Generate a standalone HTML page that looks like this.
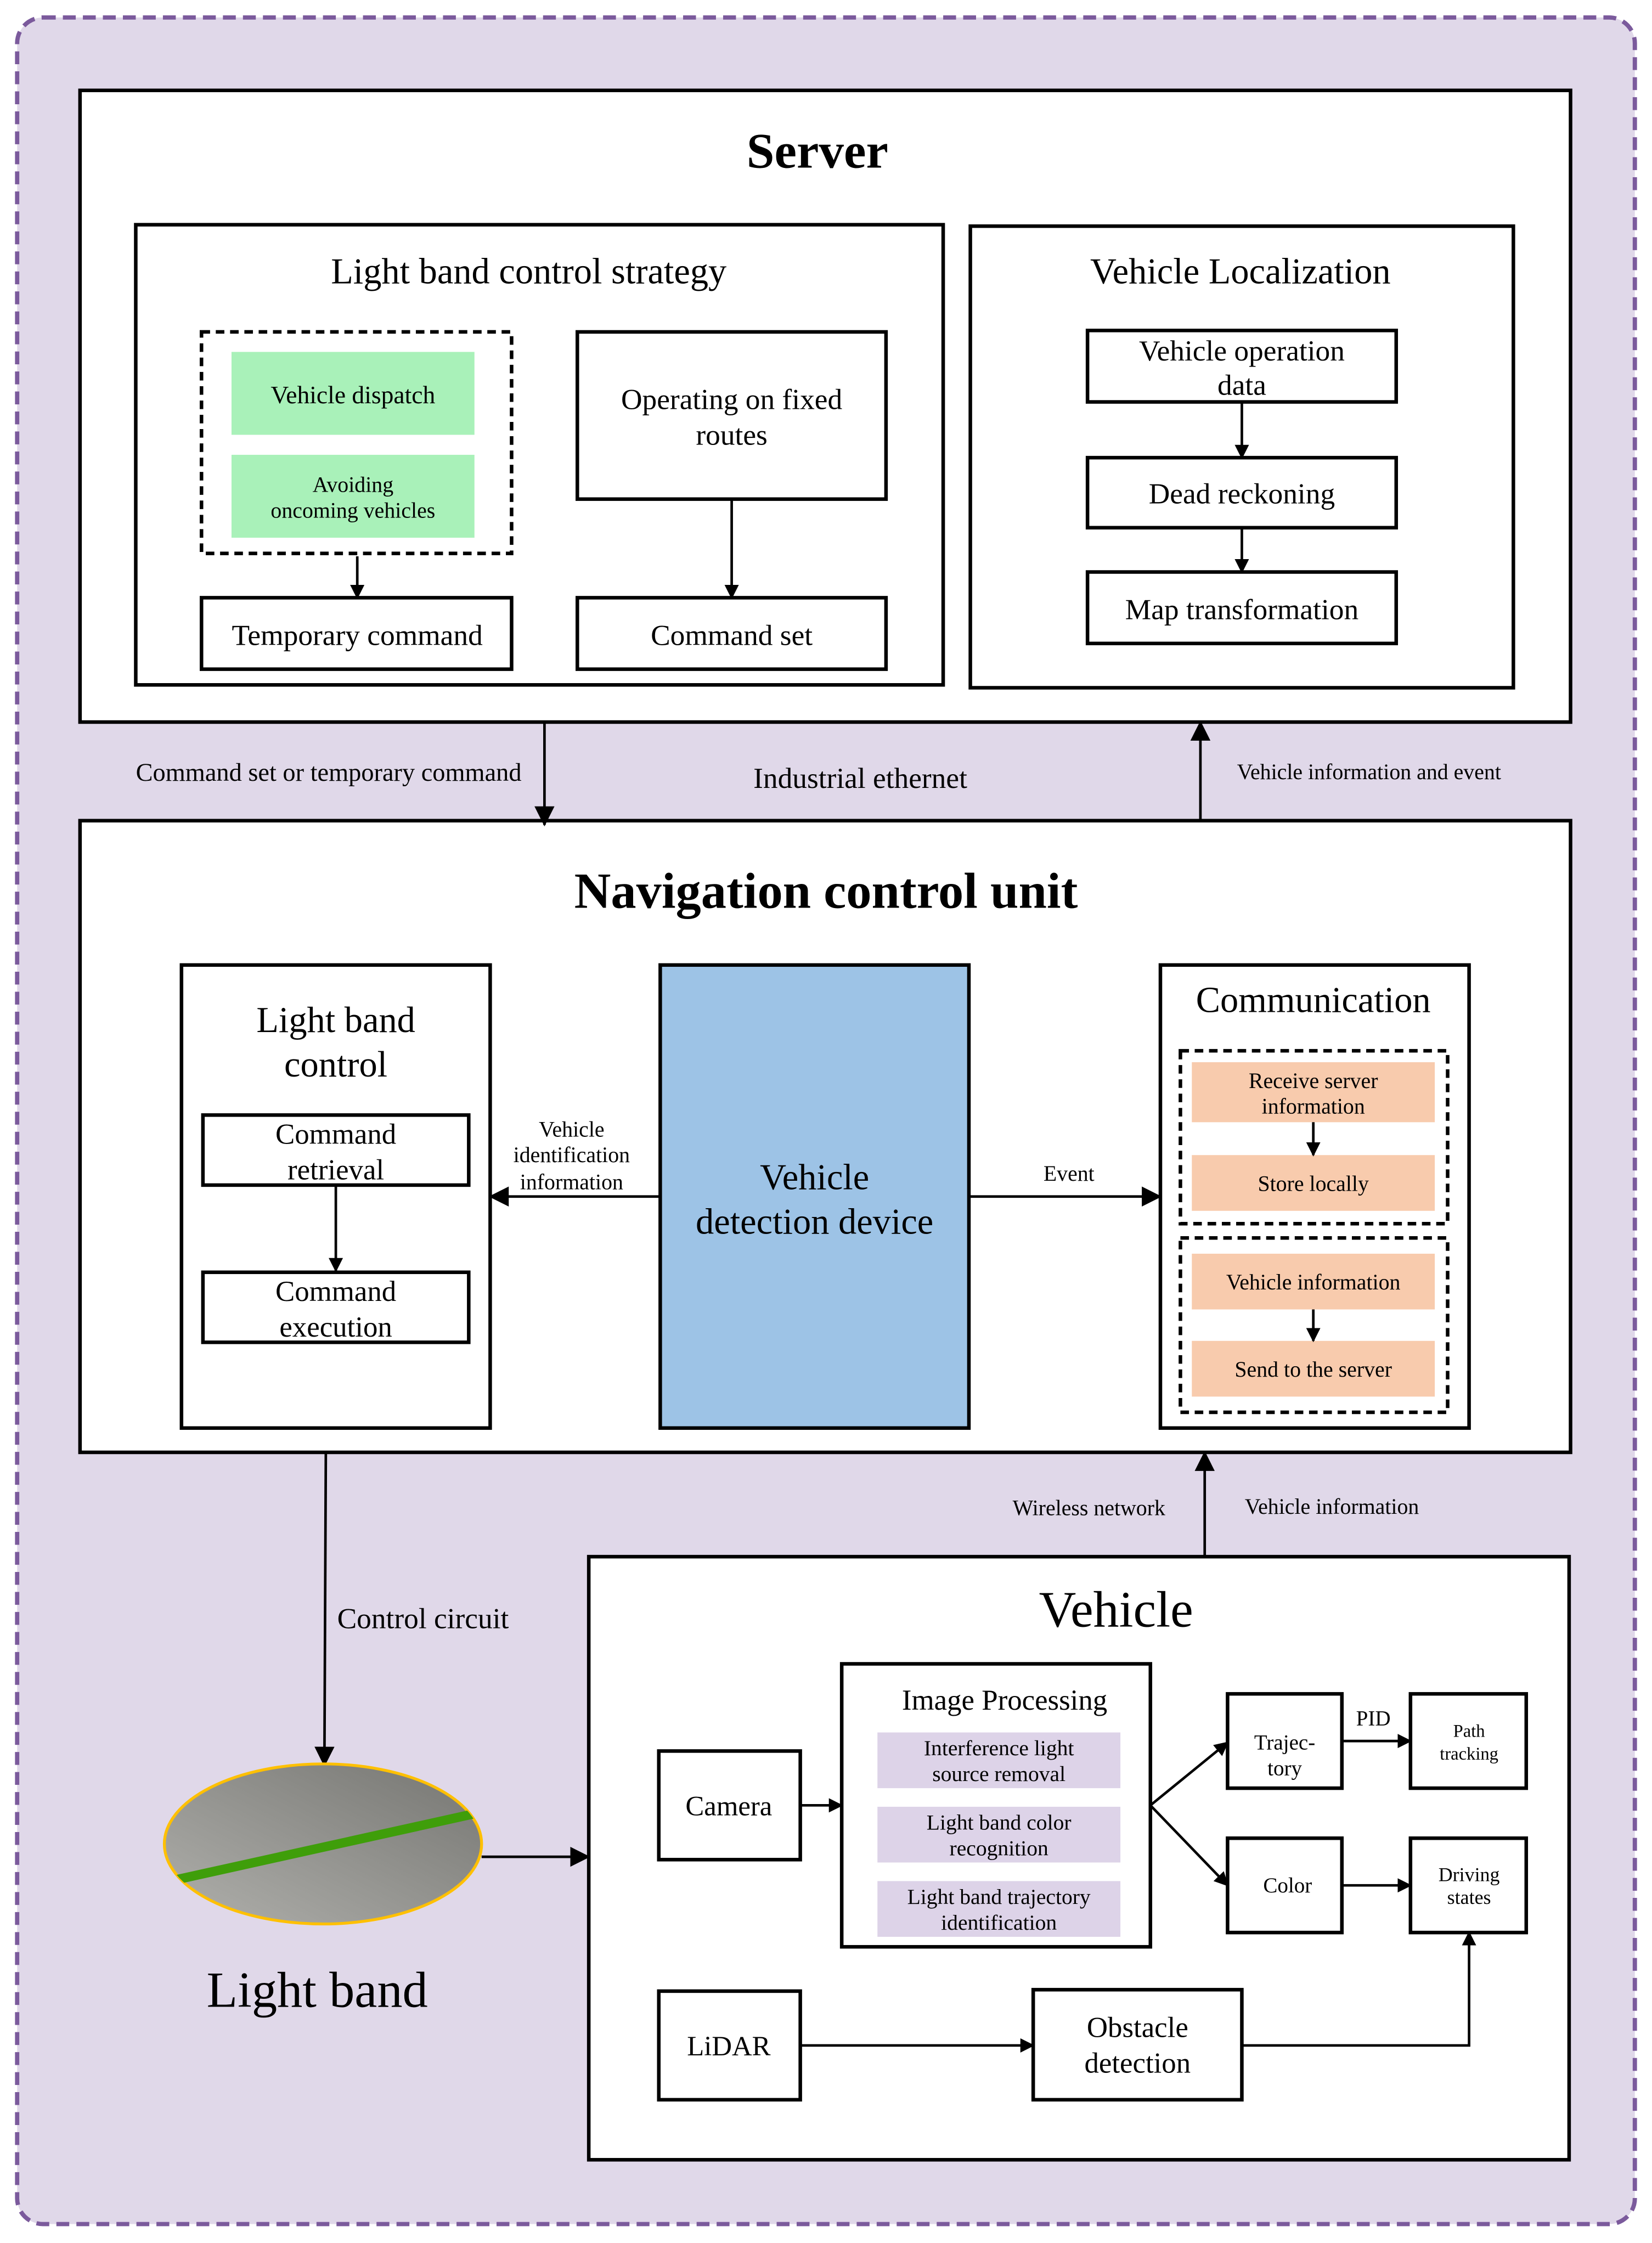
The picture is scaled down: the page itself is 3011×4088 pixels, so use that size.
<!DOCTYPE html>
<html><head><meta charset="utf-8"><style>html,body{margin:0;padding:0;background:#fff}svg{display:block}</style></head><body>
<svg xmlns="http://www.w3.org/2000/svg" width="3011" height="4088" viewBox="0 0 1156 1569" font-family="Liberation Serif, serif" text-anchor="middle">
<defs>
<marker id="a" markerWidth="10" markerHeight="10" refX="9" refY="5" orient="auto" markerUnits="userSpaceOnUse"><path d="M0,0 L10,5 L0,10 z" fill="#000"/></marker>
<marker id="b" markerWidth="14" markerHeight="14" refX="13" refY="7" orient="auto" markerUnits="userSpaceOnUse"><path d="M0,0 L14,7 L0,14 z" fill="#000"/></marker>
<linearGradient id="g" x1="0" y1="1" x2="1" y2="0"><stop offset="0" stop-color="#b0b0ac"/><stop offset="1" stop-color="#767672"/></linearGradient>
<clipPath id="ec"><ellipse cx="226" cy="1290" rx="111" ry="56"/></clipPath>
</defs>
<rect x="12" y="12" width="1132" height="1544" rx="18" fill="#e0d8e9" stroke="#7b5a9c" stroke-width="3" stroke-dasharray="9,5"/>
<g fill="#fff" stroke="#000" stroke-width="2.5">
<rect x="56" y="63" width="1043" height="442"/>
<rect x="95" y="157" width="565" height="322"/>
<rect x="679" y="158" width="380" height="323"/>
<rect x="404" y="232" width="216" height="117"/>
<rect x="141" y="418" width="217" height="50"/>
<rect x="404" y="418" width="216" height="50"/>
<rect x="761" y="231" width="216" height="50"/>
<rect x="761" y="320" width="216" height="49"/>
<rect x="761" y="400" width="216" height="50"/>
<rect x="56" y="574" width="1043" height="442"/>
<rect x="127" y="675" width="216" height="324"/>
<rect x="142" y="780" width="186" height="49"/>
<rect x="142" y="890" width="186" height="49"/>
<rect x="462" y="675" width="216" height="324" fill="#9dc3e6"/>
<rect x="812" y="675" width="216" height="324"/>
<rect x="412" y="1089" width="686" height="422"/>
<rect x="461" y="1225" width="99" height="76"/>
<rect x="589" y="1164" width="216" height="198"/>
<rect x="859" y="1185" width="80" height="66"/>
<rect x="987" y="1185" width="81" height="66"/>
<rect x="859" y="1286" width="80" height="66"/>
<rect x="987" y="1286" width="81" height="66"/>
<rect x="461" y="1393" width="99" height="76"/>
<rect x="723" y="1392" width="146" height="77"/>
</g>
<g fill="none" stroke="#000" stroke-width="2.5" stroke-dasharray="6,4">
<rect x="141" y="232" width="217" height="155"/>
<rect x="826" y="735" width="187" height="121"/>
<rect x="826" y="866" width="187" height="122"/>
</g>
<g stroke="none">
<rect x="162" y="246" width="170" height="58" fill="#a9f1b9"/>
<rect x="162" y="318" width="170" height="58" fill="#a9f1b9"/>
<rect x="834" y="743" width="170" height="42" fill="#f8cbad"/>
<rect x="834" y="808" width="170" height="39" fill="#f8cbad"/>
<rect x="834" y="877" width="170" height="39" fill="#f8cbad"/>
<rect x="834" y="938" width="170" height="39" fill="#f8cbad"/>
<rect x="614" y="1212" width="170" height="39" fill="#ddd3e8"/>
<rect x="614" y="1264" width="170" height="39" fill="#ddd3e8"/>
<rect x="614" y="1316" width="170" height="39" fill="#ddd3e8"/>
</g>
<g stroke="#000" stroke-width="1.8" fill="none" marker-end="url(#a)">
<line x1="250" y1="389" x2="250" y2="418"/>
<line x1="512" y1="349" x2="512" y2="418"/>
<line x1="869" y1="281" x2="869" y2="320"/>
<line x1="869" y1="369" x2="869" y2="400"/>
<line x1="235" y1="829" x2="235" y2="889"/>
<line x1="919" y1="785" x2="919" y2="808"/>
<line x1="919" y1="916" x2="919" y2="938"/>
<line x1="560" y1="1263" x2="589" y2="1263"/>
<line x1="805" y1="1263" x2="859" y2="1219"/>
<line x1="805" y1="1263" x2="859" y2="1319"/>
<line x1="939" y1="1218" x2="987" y2="1218"/>
<line x1="939" y1="1319" x2="987" y2="1319"/>
<line x1="560" y1="1431" x2="723" y2="1431"/>
<polyline points="869,1431 1028,1431 1028,1352"/>
</g>
<g stroke="#000" stroke-width="1.8" fill="none" marker-end="url(#b)">
<line x1="381" y1="505" x2="381" y2="577"/>
<line x1="840" y1="574" x2="840" y2="505"/>
<line x1="462" y1="837" x2="343" y2="837"/>
<line x1="678" y1="837" x2="812" y2="837"/>
<line x1="228" y1="1016" x2="227" y2="1235"/>
<line x1="843" y1="1089" x2="843" y2="1016"/>
<line x1="337" y1="1299" x2="412" y2="1299"/>
</g>
<ellipse cx="226" cy="1290" rx="111" ry="56" fill="url(#g)" stroke="#ffc000" stroke-width="2"/>
<line x1="110" y1="1318" x2="345" y2="1266" stroke="#3f9e0a" stroke-width="6.5" clip-path="url(#ec)"/>
<g fill="#000">
<text x="572" y="117" font-size="35" font-weight="bold">Server</text>
<text x="370" y="198" font-size="25.5">Light band control strategy</text>
<text x="868" y="198" font-size="25.5">Vehicle Localization</text>
<text x="247" y="282" font-size="17.5">Vehicle dispatch</text>
<text x="247" y="344" font-size="15.3">Avoiding</text>
<text x="247" y="362" font-size="15.3">oncoming vehicles</text>
<text x="512" y="286" font-size="20.5">Operating on fixed</text>
<text x="512" y="311" font-size="20.5">routes</text>
<text x="250" y="451" font-size="20.5">Temporary command</text>
<text x="512" y="451" font-size="20.5">Command set</text>
<text x="869" y="252" font-size="20.5">Vehicle operation</text>
<text x="869" y="276" font-size="20.5">data</text>
<text x="869" y="352" font-size="20.5">Dead reckoning</text>
<text x="869" y="433" font-size="20.5">Map transformation</text>
<text x="230" y="546" font-size="17.8">Command set or temporary command</text>
<text x="602" y="551" font-size="20.5">Industrial ethernet</text>
<text x="958" y="545" font-size="15.3">Vehicle information and event</text>
<text x="578" y="635" font-size="35.5" font-weight="bold">Navigation control unit</text>
<text x="235" y="722" font-size="25.5">Light band</text>
<text x="235" y="753" font-size="25.5">control</text>
<text x="235" y="800" font-size="20.3">Command</text>
<text x="235" y="825" font-size="20.3">retrieval</text>
<text x="235" y="910" font-size="20.3">Command</text>
<text x="235" y="935" font-size="20.3">execution</text>
<text x="570" y="832" font-size="25.5">Vehicle</text>
<text x="570" y="863" font-size="25.5">detection device</text>
<text x="400" y="795" font-size="15.3">Vehicle</text>
<text x="400" y="813" font-size="15.3">identification</text>
<text x="400" y="832" font-size="15.3">information</text>
<text x="748" y="826" font-size="15.3">Event</text>
<text x="919" y="708" font-size="25.5">Communication</text>
<text x="919" y="761" font-size="15.3">Receive server</text>
<text x="919" y="779" font-size="15.3">information</text>
<text x="919" y="833" font-size="15.3">Store locally</text>
<text x="919" y="902" font-size="15.3">Vehicle information</text>
<text x="919" y="963" font-size="15.3">Send to the server</text>
<text x="296" y="1139" font-size="20.5">Control circuit</text>
<text x="762" y="1060" font-size="15.3">Wireless network</text>
<text x="932" y="1059" font-size="15.3">Vehicle information</text>
<text x="781" y="1138" font-size="36">Vehicle</text>
<text x="510" y="1270" font-size="19.5">Camera</text>
<text x="703" y="1196" font-size="20.3">Image Processing</text>
<text x="699" y="1228" font-size="15.2">Interference light</text>
<text x="699" y="1246" font-size="15.2">source removal</text>
<text x="699" y="1280" font-size="15.2">Light band color</text>
<text x="699" y="1298" font-size="15.2">recognition</text>
<text x="699" y="1332" font-size="15.2">Light band trajectory</text>
<text x="699" y="1350" font-size="15.2">identification</text>
<text x="899" y="1224" font-size="15">Trajec-</text>
<text x="899" y="1242" font-size="15">tory</text>
<text x="1028" y="1215" font-size="12.5">Path</text>
<text x="1028" y="1231" font-size="12.5">tracking</text>
<text x="961" y="1207" font-size="15">PID</text>
<text x="901" y="1324" font-size="15">Color</text>
<text x="1028" y="1316" font-size="13.8">Driving</text>
<text x="1028" y="1332" font-size="13.8">states</text>
<text x="510" y="1438" font-size="19.5">LiDAR</text>
<text x="796" y="1425" font-size="20.3">Obstacle</text>
<text x="796" y="1450" font-size="20.3">detection</text>
<text x="222" y="1404" font-size="35.5">Light band</text>
</g>
</svg>
</body></html>
